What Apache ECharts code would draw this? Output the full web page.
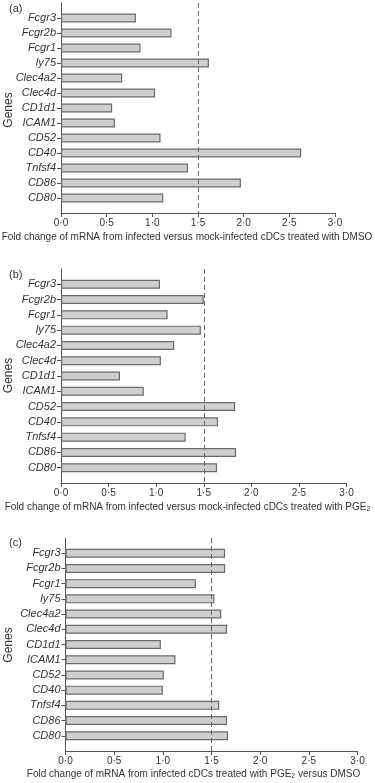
<!DOCTYPE html>
<html>
<head>
<meta charset="utf-8">
<style>
  html, body { margin: 0; padding: 0; background: #fff; }
  #chart { width: 375px; height: 783px; }
</style>
<script src="https://cdn.jsdelivr.net/npm/echarts@6/dist/echarts.min.js"></script>
</head>
<body>
<div id="chart"></div>
<script>
// genes from top to bottom
var genes = ['Fcgr3', 'Fcgr2b', 'Fcgr1', 'ly75', 'Clec4a2', 'Clec4d', 'CD1d1', 'ICAM1', 'CD52', 'CD40', 'Tnfsf4', 'CD86', 'CD80']
// (a) infected vs mock, DMSO
var foldA = [0.82, 1.21, 0.87, 1.62, 0.67, 1.03, 0.56, 0.59, 1.09, 2.63, 1.39, 1.97, 1.12]
// (b) infected vs mock, PGE2
var foldB = [1.04, 1.50, 1.12, 1.47, 1.19, 1.05, 0.62, 0.87, 1.83, 1.65, 1.31, 1.84, 1.64]
// (c) infected PGE2 vs DMSO
var foldC = [1.64, 1.64, 1.34, 1.53, 1.60, 1.66, 0.98, 1.13, 1.01, 1.00, 1.58, 1.66, 1.67]
var xTicks = [0, 0.5, 1, 1.5, 2, 2.5, 3]
var threshold = 1.5

var panels = [
  { letter: '(a)', data: foldA, grid: { left: 61, top: 3, width: 274, height: 210 },
    title: 'Fold change of mRNA from infected versus mock-infected cDCs treated with DMSO', titleX: 187, titleY: 237, letterY: 8.5, genesY: 110 },
  { letter: '(b)', data: foldB, grid: { left: 61, top: 269, width: 285.5, height: 214 },
    title: 'Fold change of mRNA from infected versus mock-infected cDCs treated with PGE{s|2}', titleX: 187.5, titleY: 507, letterY: 274.5, genesY: 375.5 },
  { letter: '(c)', data: foldC, grid: { left: 65.5, top: 538, width: 292, height: 213 },
    title: 'Fold change of mRNA from infected cDCs treated with PGE{s|2} versus DMSO', titleX: 193.5, titleY: 774, letterY: 543, genesY: 645 }
]

var axisColor = '#555'
var textColor = '#333'
var fontFam = '"Liberation Sans", Arial, sans-serif'
var cats = [''].concat(genes, [''])

var option = { animation: false, backgroundColor: '#fff', grid: [], xAxis: [], yAxis: [], series: [], graphic: [] }

panels.forEach(function (p, i) {
  option.grid.push(p.grid)
  option.xAxis.push({
    type: 'value', gridIndex: i, min: xTicks[0], max: xTicks[xTicks.length - 1], interval: 0.5,
    axisLine: { show: true, lineStyle: { color: axisColor, width: 1 } },
    axisTick: { show: true, length: 4, lineStyle: { color: axisColor } },
    axisLabel: {
      margin: 5, color: textColor, fontSize: 10, fontFamily: fontFam,
      formatter: function (v) { return v.toFixed(1).replace('.', '\u00b7') }
    },
    splitLine: { show: false }
  })
  option.yAxis.push({
    type: 'category', gridIndex: i, data: cats, inverse: true, boundaryGap: false,
    axisLine: { show: true, lineStyle: { color: axisColor, width: 1 } },
    axisTick: { show: true, length: 4, interval: function (idx) { return idx > 0 && idx < cats.length - 1 }, lineStyle: { color: axisColor } },
    axisLabel: { interval: 0, margin: 5, color: textColor, fontSize: 11, fontStyle: 'italic', fontFamily: fontFam }
  })
  option.series.push({
    type: 'bar', xAxisIndex: i, yAxisIndex: i, barWidth: 9,
    data: [null].concat(p.data, [null]),
    itemStyle: { color: '#cdd0d2', borderColor: '#6a6a6a', borderWidth: 1.2 },
    markLine: {
      silent: true, symbol: 'none', label: { show: false },
      lineStyle: { color: '#666', type: [5, 3], width: 1 },
      data: [{ xAxis: threshold }]
    }
  })
  option.graphic.push({
    type: 'text', x: 9, y: p.letterY,
    style: { text: p.letter, font: '11px ' + fontFam, fill: textColor, textAlign: 'left', textVerticalAlign: 'middle' }
  })
  option.graphic.push({
    type: 'text', x: 9, y: p.genesY, rotation: Math.PI / 2,
    style: { text: 'Genes', font: '12px ' + fontFam, fill: textColor, textAlign: 'center', textVerticalAlign: 'middle' }
  })
  option.graphic.push({
    type: 'text', x: p.titleX, y: p.titleY,
    style: {
      text: p.title, font: '10px ' + fontFam, fill: textColor, textAlign: 'center', textVerticalAlign: 'middle',
      rich: { s: { fontSize: 7, fontFamily: fontFam, fill: textColor, padding: [5, 0, 0, 0] } }
    }
  })
})

var chart = echarts.init(document.getElementById('chart'))
chart.setOption(option)
</script>
</body>
</html>
